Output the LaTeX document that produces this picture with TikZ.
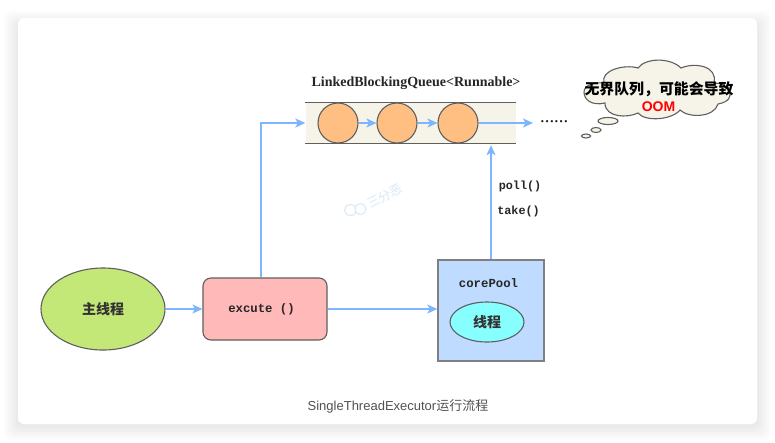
\documentclass[tikz,border=0pt]{standalone}
\usepackage{fontspec}
\setmainfont{Liberation Serif}
\newfontfamily\cjk{Noto Sans CJK SC}
\newfontfamily\mymono{Liberation Mono}
\newfontfamily\mysans{Liberation Sans}
\usetikzlibrary{arrows.meta,shapes.geometric,calc}
\definecolor{flow}{HTML}{7DB5FF}
\definecolor{edgegray}{HTML}{5F5F5F}
\definecolor{cream}{HTML}{F6F4E8}
\definecolor{orangefill}{HTML}{FFBE82}
\definecolor{greenfill}{HTML}{C3E878}
\definecolor{pinkfill}{HTML}{FFB9B9}
\definecolor{bluefill}{HTML}{BFDBFF}
\definecolor{cyanfill}{HTML}{88FFFF}
\definecolor{marktone}{HTML}{D6E8FA}
\tikzset{
  flowline/.style={draw=flow,line width=1.5pt,-{Stealth[length=10pt,width=9pt,inset=2.5pt,fill=flow]}},
  ball/.style={circle,draw=edgegray,fill=orangefill,line width=1.1pt,minimum size=40pt,inner sep=0pt},
  codetext/.style={font=\mymono\fontsize{12.3}{14}\selectfont\bfseries,text=black!85,inner sep=0pt},
  cjktext/.style={font=\cjk\fontsize{14}{16}\selectfont\bfseries,text=black!80,inner sep=0pt},
  puff/.style={draw=edgegray,fill=cream,line width=1.1pt}
}
\begin{document}
\begin{tikzpicture}[x=1pt,y=-1pt]
\useasboundingbox (0,0) rectangle (775,442);
% card shadow
\foreach \e in {14,12,...,2}{
  \fill[black,opacity=0.01,rounded corners=8pt] (18-\e,25-\e) rectangle (757+\e,426+\e);
}
\fill[white,rounded corners=6pt] (18,18) rectangle (757,424);

% watermark
\draw[marktone,line width=1pt] (350.5,210) ellipse (6pt and 5.5pt);
\draw[marktone,line width=1pt,fill=white] (360.5,209) ellipse (5.5pt and 5.5pt);
\node[rotate=28,text=marktone,font=\cjk\fontsize{12.5}{14}\selectfont,inner sep=0pt] (mark) at (384.5,196) {三分恶};

% queue
\node[rectangle,fill=cream,minimum width=210pt,minimum height=40pt,inner sep=0pt] (queue) at (410.5,123) {};
\draw[edgegray,line width=1.1pt] (queue.north west) -- (queue.north east);
\draw[edgegray,line width=1.1pt] (queue.south west) -- (queue.south east);
\node[ball] (b1) at (338,123) {};
\node[ball] (b2) at (397,123) {};
\node[ball] (b3) at (458,123) {};
\node[font=\fontsize{14}{16}\selectfont\bfseries,text=black!85,inner sep=0pt] (qname) at (416,83) {LinkedBlockingQueue<Runnable>};
\node[font=\fontsize{18.7}{20}\selectfont,text=black!90,inner sep=0pt,anchor=base west] (dots) at (540,122) {......};
\coordinate (qend) at (533,123);

% main shapes
\node[ellipse,draw=edgegray,fill=greenfill,line width=1.1pt,minimum width=124pt,minimum height=82pt,cjktext] (main) at (103,309) {主线程};
\node[rectangle,rounded corners=8pt,draw=edgegray,fill=pinkfill,line width=1.1pt,minimum width=124pt,minimum height=62pt,codetext] (exec) at (265,309) {\hspace*{-7pt}excute ()};
\node[rectangle,draw=gray,fill=bluefill,line width=1.4pt,minimum width=106pt,minimum height=101pt,inner sep=0pt] (pool) at (491,310.5) {};
\node[codetext] (poolname) at (488.5,283) {corePool};
\node[ellipse,draw=edgegray,fill=cyanfill,line width=1.1pt,minimum width=74pt,minimum height=40pt,cjktext] (worker) at (487,322) {线程};
\node[codetext,font=\mymono\fontsize{11.8}{14}\selectfont\bfseries] (poll) at (520,186) {poll()};
\node[codetext,font=\mymono\fontsize{11.8}{14}\selectfont\bfseries] (take) at (518.5,211) {take()};

% connectors
\draw[flowline] (main.east) -- (exec.west);
\draw[flowline] (exec.97.4) |- (queue.west);
\draw[flowline] (exec.east) -- (pool.west |- exec.east);
\draw[flowline] (pool.north) -- ($(queue.south)+(80.5,2)$);
\draw[flowline] (b1) -- (b2);
\draw[flowline] (b2) -- (b3);
\draw[flowline] (b3) -- (qend);

% cloud
\draw[puff] (584,92)
  .. controls (584,85) and (595,82) .. (604,83)
  .. controls (600,70) and (625,64) .. (638,68)
  .. controls (645,58) and (670,57) .. (681,68)
  .. controls (695,62) and (718,66) .. (714,83)
  .. controls (728,82) and (740,100) .. (718,104)
  .. controls (714,118) and (688,118) .. (680,110)
  .. controls (672,120) and (645,122) .. (638,113)
  .. controls (628,118) and (605,118) .. (605,103)
  .. controls (592,106) and (584,100) .. (584,92) -- cycle;
\draw[puff] (608,121) ellipse (10pt and 3.5pt);
\draw[puff] (596,130) ellipse (5pt and 2.5pt);
\draw[puff] (586,136) ellipse (4.5pt and 2pt);
\node[font=\cjk\fontsize{14.9}{16}\selectfont\bfseries,text=black,inner sep=0pt] (warn) at (659,89) {无界队列，可能会导致};
\node[font=\mysans\fontsize{14}{15}\selectfont\bfseries,text=red,inner sep=0pt] (oom) at (658.5,107) {OOM};

% caption
\node[font=\mysans\fontsize{13}{15}\selectfont,text=black!68,inner sep=0pt] (cap) at (398,406) {SingleThreadExecutor{\cjk 运行流程}};
\end{tikzpicture}
\end{document}
